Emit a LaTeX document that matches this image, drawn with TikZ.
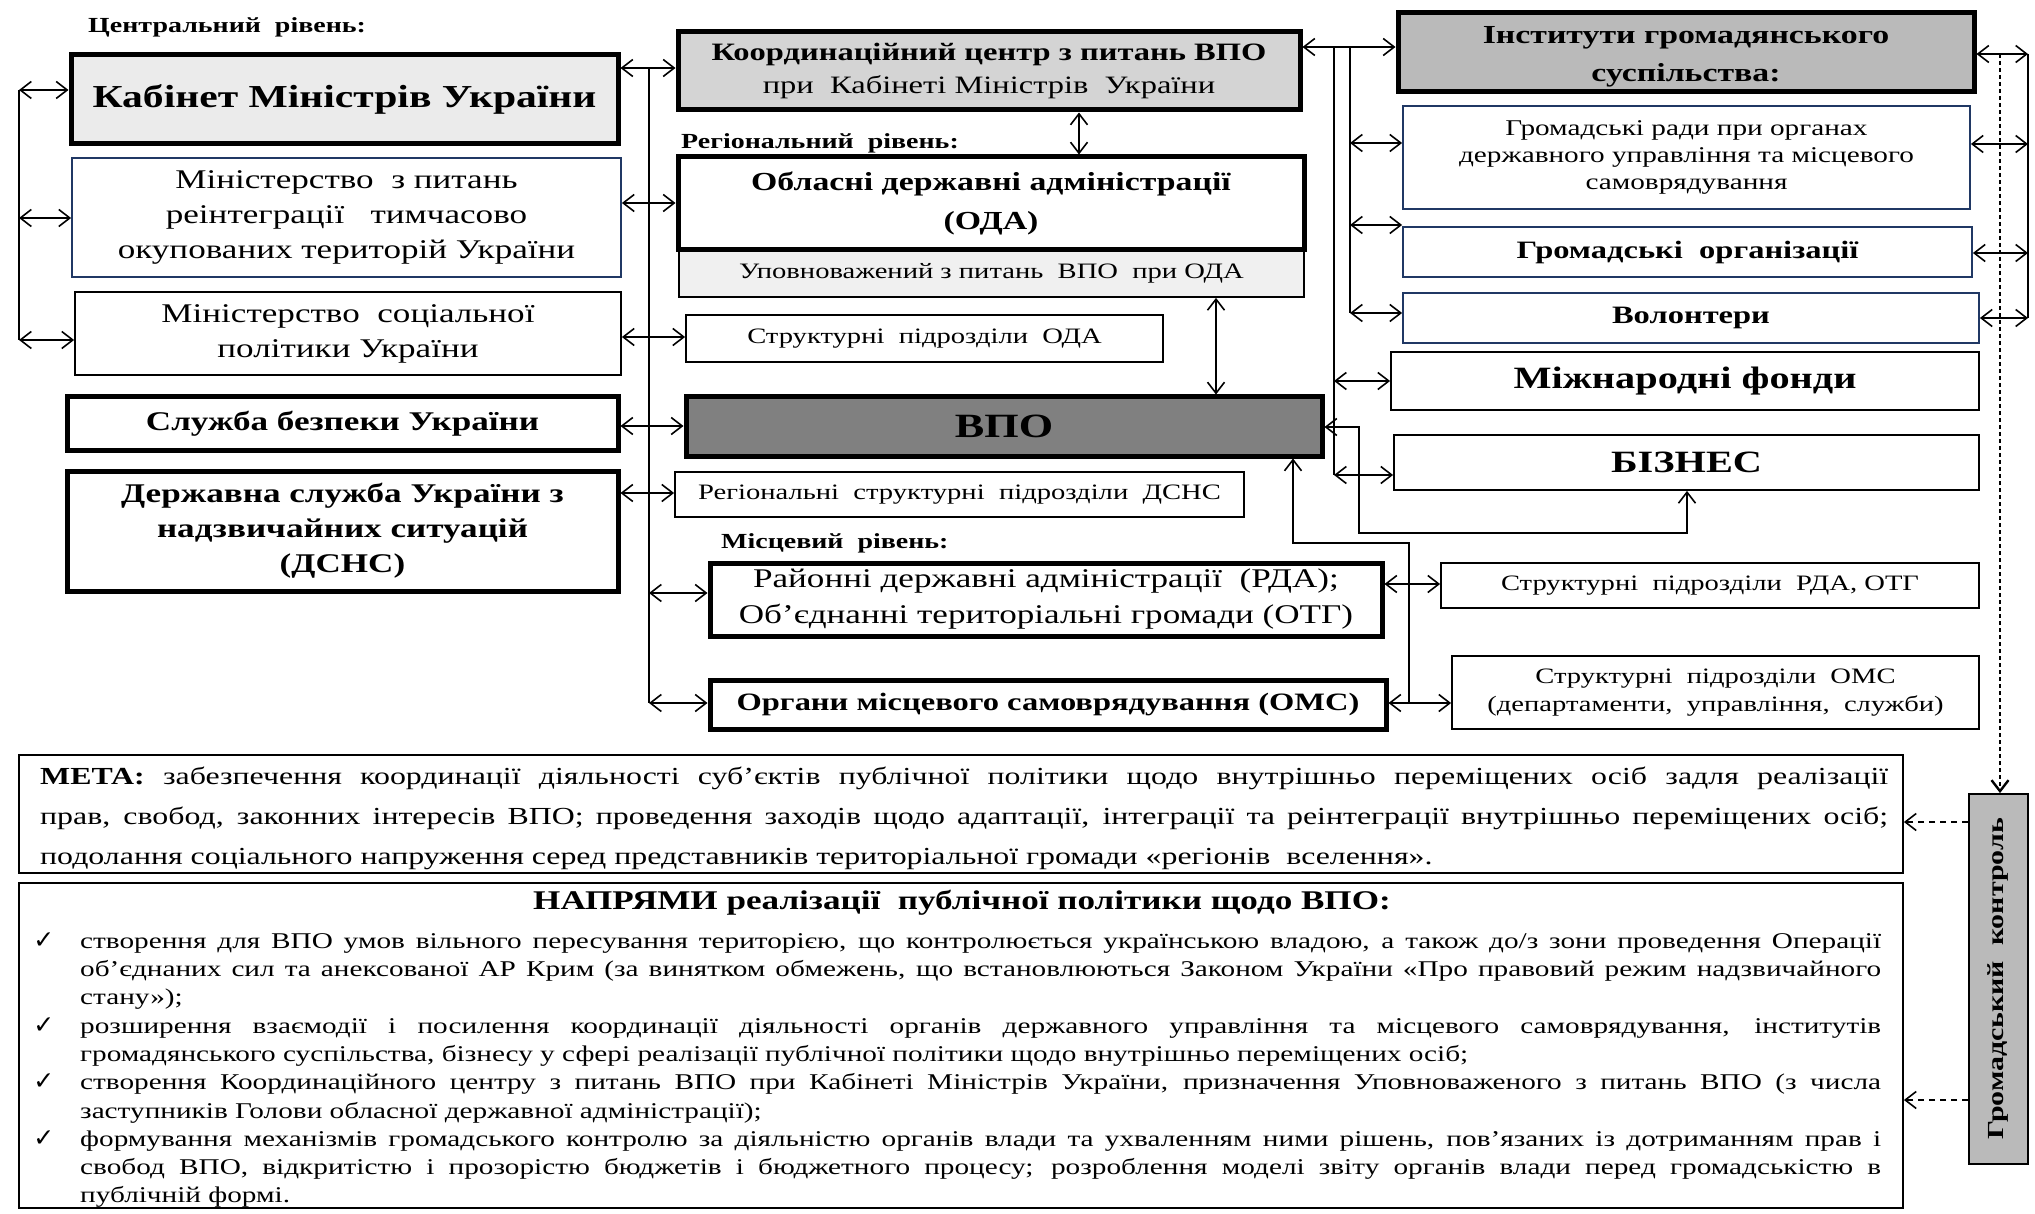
\documentclass[tikz,border=0pt]{standalone}
\usepackage{fontspec}
\setmainfont{Liberation Serif}[FakeStretch=1.3]
\newfontfamily\symf{DejaVu Sans}
\usepackage{graphicx}
\usetikzlibrary{arrows.meta,calc}
\definecolor{navy}{RGB}{32,56,100}
\newcommand\myfs[2]{\fontsize{#1}{#2}\selectfont}
\newcommand\mychk{{\symf\fontsize{25}{25}\selectfont ✓}}
\begin{document}
\begin{tikzpicture}[x=1pt,y=-1pt,
  >={Straight Barb[length=11pt,width=17pt]},
  bx/.style={draw, rectangle, fill=white, inner sep=1pt, align=center, line width=1.8pt},
  tk/.style={bx, line width=5pt},
  nv/.style={bx, draw=navy},
  ln/.style={line width=1.6pt},
  lvl/.style={anchor=west, inner sep=0pt, font=\myfs{21.5}{24}\bfseries},
]
\fill[white] (0,0) rectangle (2035,1214);
\useasboundingbox (0,0) rectangle (2035,1214);

% level labels
\node[lvl] (lc) at (88,27) {Центральний\ \ рівень:};
\node[lvl] (lr) at (681,143) {Регіональний\ \ рівень:};
\node[lvl] (ll) at (721,543) {Місцевий\ \ рівень:};

% left column
\node[tk, fill=black!8, minimum width=547pt, minimum height=89pt, font=\myfs{32}{36}\bfseries] (kab) at (344.5,99.5) {Кабінет Міністрів України};
\node[nv, minimum width=549pt, minimum height=119pt, font=\myfs{27}{35}] (min1) at (346.5,217.5) {Міністерство\ \ з питань\\реінтеграції\ \ \ тимчасово\\окупованих територій України};
\node[bx, minimum width=546pt, minimum height=83pt, font=\myfs{27}{35}] (min2) at (348,333.5) {Міністерство\ \ соціальної\\політики України};
\node[tk, minimum width=551pt, minimum height=53pt, font=\myfs{27}{32}\bfseries] (sbu) at (342.5,423.5) {Служба безпеки України};
\node[tk, minimum width=551pt, minimum height=120pt, font=\myfs{27}{35}\bfseries] (dsns) at (342.5,531) {Державна служба України з\\надзвичайних ситуацій\\(ДСНС)};

% middle column
\node[tk, fill=black!17, minimum width=622pt, minimum height=78pt, font=\myfs{25}{33}] (coord) at (989,71) {\textbf{Координаційний центр з питань ВПО}\\при\ \ Кабінеті Міністрів\ \ України};
\node[bx, fill=black!6, minimum width=625pt, minimum height=47pt, font=\myfs{22}{26}] (upov) at (991.5,273.5) {Уповноважений з питань\ \ ВПО\ \ при ОДА};
\node[tk, minimum width=626pt, minimum height=93pt, font=\myfs{26}{39}\bfseries] (oda) at (991,203.5) {Обласні державні адміністрації\\(ОДА)};
\node[bx, minimum width=477pt, minimum height=47pt, font=\myfs{22}{26}] (strOda) at (924.5,338.5) {Структурні\ \ підрозділи\ \ ОДА};
\node[tk, fill=black!50, minimum width=636pt, minimum height=59pt, font=\myfs{34}{40}\bfseries] (vpo) at (1004,426.5) {ВПО};
\node[bx, minimum width=569pt, minimum height=45pt, font=\myfs{22}{26}] (rdsns) at (959.5,494.5) {Регіональні\ \ структурні\ \ підрозділи\ \ ДСНС};
\node[tk, minimum width=672pt, minimum height=73pt, font=\myfs{27}{36}] (rda) at (1046,599.5) {Районні державні адміністрації\ \ (РДА);\\Об'єднанні територіальні громади (ОТГ)};
\node[tk, minimum width=676pt, minimum height=49pt, font=\myfs{25}{30}\bfseries] (oms) at (1048,704.5) {Органи місцевого самоврядування (ОМС)};

% right column
\node[tk, fill=black!27, minimum width=576pt, minimum height=79pt, font=\myfs{26}{38}\bfseries] (inst) at (1686,52.5) {\rule{0pt}{26pt}Інститути громадянського\\суспільства:};
\node[nv, minimum width=567pt, minimum height=103pt, font=\myfs{22.5}{27}] (grady) at (1686.5,157.5) {Громадські ради при органах\\державного управління та місцевого\\самоврядування};
\node[nv, minimum width=569pt, minimum height=50pt, font=\myfs{25}{30}\bfseries] (grorg) at (1687.5,252) {Громадські\ \ організації};
\node[nv, minimum width=576pt, minimum height=50pt, font=\myfs{25}{30}\bfseries] (vol) at (1691,318) {Волонтери};
\node[bx, minimum width=588pt, minimum height=58pt, font=\myfs{31}{36}\bfseries] (mizh) at (1685,381) {Міжнародні фонди};
\node[bx, minimum width=585pt, minimum height=55pt, font=\myfs{31}{36}\bfseries] (biz) at (1686.5,462.5) {БІЗНЕС};
\node[bx, minimum width=538pt, minimum height=45pt, font=\myfs{22}{26}] (strrda) at (1710,585.5) {Структурні\ \ підрозділи\ \ РДА, ОТГ};
\node[bx, minimum width=527pt, minimum height=73pt, font=\myfs{22}{28}] (stroms) at (1715.5,692.5) {Структурні\ \ підрозділи\ \ ОМС\\(департаменти,\ \ управління,\ \ служби)};
\node[bx, fill=black!27, minimum width=59pt, minimum height=370pt, font=\myfs{23}{26}\bfseries] (hk) at (1998.5,979) {\rotatebox{90}{Громадський\ \ контроль}};

% bottom boxes
\node[bx, minimum width=1884pt, minimum height=118pt] (meta) at (961,814) {};
\node[bx, minimum width=1884pt, minimum height=325pt] (napr) at (961,1045.5) {};
\node[anchor=north west, inner sep=0pt, text width=1848pt, align=justify, font=\myfs{24.5}{40}] (metaT) at (40,764) {\noindent\rule{0pt}{20pt}\textbf{МЕТА:} забезпечення координації діяльності суб’єктів публічної політики щодо внутрішньо переміщених осіб задля реалізації\linebreak прав, свобод, законних інтересів ВПО; проведення заходів щодо адаптації, інтеграції та реінтеграції внутрішньо переміщених осіб;\linebreak подолання соціального напруження серед представників територіальної громади «регіонів\ \ вселення».};
\node[font=\myfs{27}{30}\bfseries] (naprT) at (962,903) {НАПРЯМИ реалізації\ \ публічної політики щодо ВПО:};
\node[anchor=north west, inner sep=0pt, text width=1801pt, align=justify, font=\myfs{22.5}{28.3}] (list) at (80,928) {%
\noindent\rule{0pt}{20pt}\llap{\mychk\hspace{26pt}}створення для ВПО умов вільного пересування територією, що контролюється українською владою, а також до/з зони проведення Операції\linebreak об’єднаних сил та анексованої АР Крим (за винятком обмежень, що встановлюються Законом України «Про правовий режим надзвичайного\linebreak стану»);\par
\noindent\llap{\mychk\hspace{26pt}}розширення взаємодії і посилення координації діяльності органів державного управління та місцевого самоврядування, інститутів\linebreak громадянського суспільства, бізнесу у сфері реалізації публічної політики щодо внутрішньо переміщених осіб;\par
\noindent\llap{\mychk\hspace{26pt}}створення Координаційного центру з питань ВПО при Кабінеті Міністрів України, призначення Уповноваженого з питань ВПО (з числа\linebreak заступників Голови обласної державної адміністрації);\par
\noindent\llap{\mychk\hspace{26pt}}формування механізмів громадського контролю за діяльністю органів влади та ухваленням ними рішень, пов’язаних із дотриманням прав і\linebreak свобод ВПО, відкритістю і прозорістю бюджетів і бюджетного процесу; розроблення моделі звіту органів влади перед громадськістю в\linebreak публічній формі.};

% left bus
\coordinate (lT) at (19,90);
\coordinate (lM) at (19,218);
\coordinate (lB) at (19,340);
\draw[ln] (lT) -- (lB);
\draw[ln,<->] (lT) -- (kab.west |- lT);
\draw[ln,<->] (lM) -- (min1.west |- lM);
\draw[ln,<->] (lB) -- (min2.west |- lB);

% central bus
\coordinate (cT) at (649,68);
\coordinate (cB) at (649,703);
\draw[ln] (cT) -- (cB);
\draw[ln,<->] (kab.east |- cT) -- (coord.west |- cT);
\coordinate (a1) at (649,203);
\draw[ln,<->] (min1.east |- a1) -- (oda.west |- a1);
\coordinate (a2) at (649,337);
\draw[ln,<->] (min2.east |- a2) -- (strOda.west |- a2);
\coordinate (a3) at (649,426);
\draw[ln,<->] (sbu.east |- a3) -- (vpo.west |- a3);
\coordinate (a4) at (649,493);
\draw[ln,<->] (dsns.east |- a4) -- (rdsns.west |- a4);
\coordinate (a5) at (649,593);
\draw[ln,<->] (a5) -- (rda.west |- a5);
\draw[ln,<->] (cB) -- (oms.west |- cB);

% verticals in the middle
\coordinate (v1) at (1079,130);
\draw[ln,<->] (coord.south -| v1) -- (oda.north -| v1);
\coordinate (v2) at (1216,350);
\draw[ln,<->] (upov.south -| v2) -- (vpo.north -| v2);

% right buses
\coordinate (r0) at (1334,47);
\coordinate (r1) at (1334,381);
\coordinate (r2) at (1334,475);
\draw[ln] (r0) -- (r2);
\draw[ln,<->] (coord.east |- r0) -- (inst.west |- r0);
\draw[ln,<->] (r1) -- (mizh.west |- r1);
\draw[ln,<->] (r2) -- (biz.west |- r2);
\coordinate (s0) at (1350,47);
\coordinate (s1) at (1350,143);
\coordinate (s2) at (1350,225);
\coordinate (s3) at (1350,313);
\draw[ln] (s0) -- (s3);
\draw[ln,<->] (s1) -- (grady.west |- s1);
\draw[ln,<->] (s2) -- (grorg.west |- s2);
\draw[ln,<->] (s3) -- (vol.west |- s3);

% VPO - business
\coordinate (q1) at (1359,427);
\coordinate (q2) at (1687,533);
\draw[ln,<->] (vpo.east |- q1) -- (q1) |- (q2) -- (biz.south -| q2);

% VPO - local level
\coordinate (w1) at (1293,543);
\coordinate (w2) at (1409,703);
\draw[ln,->] (w2) |- (w1) -- (vpo.south -| w1);
\draw[ln,<->] (oms.east |- w2) -- (stroms.west |- w2);
\coordinate (w3) at (1410,584);
\draw[ln,<->] (rda.east |- w3) -- (strrda.west |- w3);

% right bracket
\coordinate (e0) at (2028,54);
\coordinate (e1) at (2028,144);
\coordinate (e2) at (2028,253);
\coordinate (e3) at (2028,318);
\draw[ln] (e0) -- (e3);
\draw[ln,<->] (inst.east |- e0) -- (e0);
\draw[ln,<->] (grady.east |- e1) -- (e1);
\draw[ln,<->] (grorg.east |- e2) -- (e2);
\draw[ln,<->] (vol.east |- e3) -- (e3);

% public control (dashed)
\coordinate (d0) at (2000,54);
\draw[line width=2.4pt, dash pattern=on 4pt off 3pt, ->] (d0) -- (hk.north -| d0);
\coordinate (h1) at (1940,822);
\coordinate (h2) at (1940,1100);
\draw[ln, dash pattern=on 6pt off 5pt, ->] (hk.west |- h1) -- (meta.east |- h1);
\draw[ln, dash pattern=on 6pt off 5pt, ->] (hk.west |- h2) -- (napr.east |- h2);
\end{tikzpicture}
\end{document}
